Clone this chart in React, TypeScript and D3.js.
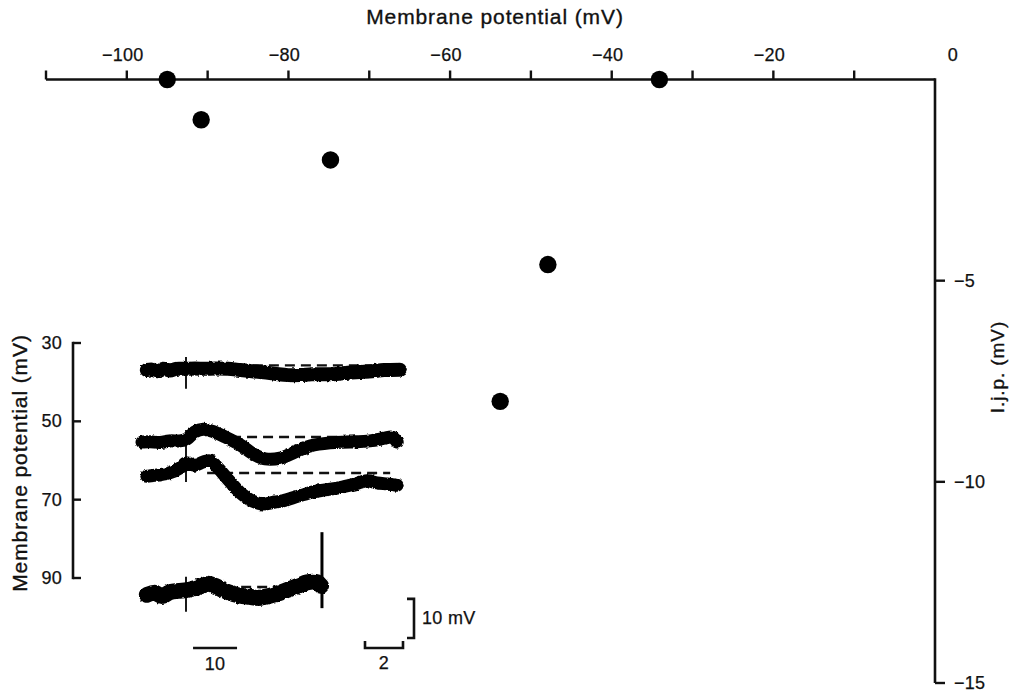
import React from "react";
import * as d3 from "d3";

// Main plot: i.j.p. amplitude against membrane potential
const membranePotential = [-95, -90.8, -74.8, -47.9, -53.8, -34.1];
const ijpAmplitude = [0, -1.0, -2.0, -4.6, -8.0, 0];

const topTickValues = [-110, -100, -90, -80, -70, -60, -50, -40, -30, -20, -10];
const topTickLabels = [-100, -80, -60, -40, -20, 0];
const rightTickValues = [-5, -10, -15];

// Inset: intracellular records (time units, membrane potential in -mV)
const insetTickValues = [30, 50, 70, 90];

const trace1: [number, number][] = [
  [1.1, 36.9], [2.3, 36.8], [3.6, 37.2], [5.0, 36.6], [6.4, 37.0], [7.7, 36.6],
  [10.0, 36.6], [12.0, 36.5], [14.3, 36.6], [16.6, 36.5], [19.5, 36.6], [22.3, 36.9],
  [25.0, 37.2], [27.7, 37.5], [30.5, 37.9], [33.2, 38.2], [35.9, 38.2], [38.6, 38.0],
  [41.4, 38.0], [44.1, 37.9], [46.8, 37.6], [49.5, 37.4], [52.3, 37.2], [55.0, 36.9],
  [58.6, 36.8],
];
const trace2: [number, number][] = [
  [0, 55.3], [1.8, 55.2], [4.1, 55.4], [6.4, 55.0], [8.6, 55.0], [10.2, 54.5],
  [12.0, 52.7], [13.9, 52.0], [15.9, 52.5], [18.9, 54.0], [22.3, 56.0], [25.7, 58.6],
  [28.0, 59.6], [31.4, 59.4], [34.8, 57.8], [38.2, 56.3], [42.7, 55.5], [47.3, 55.3],
  [51.8, 55.0], [55.2, 54.3], [56.8, 54.0], [58.0, 55.3],
];
const trace3: [number, number][] = [
  [1.1, 64.0], [3.6, 63.7], [6.4, 63.1], [8.6, 61.9], [10.0, 60.6], [12.0, 61.2],
  [13.9, 60.4], [15.5, 60.1], [17.3, 61.9], [19.3, 64.5], [22.3, 68.2], [25.0, 70.3],
  [27.5, 71.1], [30.2, 70.6], [32.0, 70.3], [35.5, 69.1], [38.9, 68.0], [41.6, 67.5],
  [45.0, 66.9], [48.4, 66.0], [51.1, 65.2], [53.4, 65.7], [55.7, 66.0], [58.0, 66.3],
];
const trace4: [number, number][] = [
  [1.1, 94.3], [3.0, 93.8], [4.5, 94.6], [6.4, 93.6], [8.2, 93.3], [10.2, 93.1],
  [12.0, 92.6], [13.6, 92.0], [15.0, 91.5], [16.6, 92.0], [19.3, 93.5], [22.3, 94.5],
  [24.5, 94.8], [26.4, 95.1], [28.0, 94.8], [29.8, 94.3], [31.8, 93.6], [33.6, 92.8],
  [35.9, 91.8], [37.5, 91.1], [39.8, 91.1], [40.7, 92.0],
];
const traceWidths = [14, 13, 13, 16];

// Pre-stimulus resting levels (dashed) with the time span they cover
const baselines = [
  { v: 35.7, t0: 25.2, t1: 58.0 },
  { v: 54.0, t0: 16.6, t1: 57.0 },
  { v: 63.2, t0: 14.8, t1: 56.4 },
  { v: 92.3, t0: 18.9, t1: 39.3 },
];

// Stimulus artefacts at t = 10
const stimulusTime = 10;
const stimulusSpans: [number, number][] = [[33.6, 41.7], [52.2, 65.5], [89.7, 98.6]];
// Spike at the end of the last record
const spike = { t: 40.9, v0: 78.3, v1: 97.7 };

// Calibration bars
const timeBar = { start: 11.6, length: 10, label: "10" };
const slowBar = { start: 0, length: 2, label: "2" };
const voltBar = { length: 10, label: "10 mV" };

const FONT = "'Liberation Sans', Arial, Helvetica, sans-serif";
const INK = "#111";

export default function App() {
  const W = 1020;
  const H = 693;

  const x = d3.scaleLinear().domain([-110, 0]).range([46, 935]);
  const y = d3.scaleLinear().domain([0, -15]).range([79.5, 683]);

  const yIn = d3.scaleLinear().domain([30, 90]).range([343, 578]);
  const tIn = d3.scaleLinear().domain([0, 60]).range([142, 406]);
  const tSlow = d3.scaleLinear().domain([0, 2]).range([365, 403]);

  const line = d3
    .line<[number, number]>()
    .x((d) => tIn(d[0]))
    .y((d) => yIn(d[1]))
    .curve(d3.curveCatmullRom.alpha(0.5));

  const traces = [trace1, trace2, trace3, trace4];
  const axisY = y(0);
  const axisX = x(0);
  const insetX = 73;

  const voltLen = yIn(30 + voltBar.length) - yIn(30);
  const voltX = 414;
  const voltBottom = 638;
  const barY = 648;

  const labelStyle = { fontSize: 18, fill: INK, stroke: INK, strokeWidth: 0.25, letterSpacing: 0.3 };
  const titleStyle = { fontSize: 21, fill: INK, stroke: INK, strokeWidth: 0.35, letterSpacing: 0.9 };

  return (
    <svg
      width={W}
      height={H}
      viewBox={`0 0 ${W} ${H}`}
      style={{ position: "absolute", left: 0, top: 0, background: "#fff" }}
      fontFamily={FONT}
    >
      <defs>
        <filter id="ragged" x="-5%" y="-30%" width="110%" height="160%">
          <feTurbulence type="fractalNoise" baseFrequency="0.3" numOctaves="2" seed="4" />
          <feDisplacementMap in="SourceGraphic" scale="3" xChannelSelector="R" yChannelSelector="G" />
        </filter>
      </defs>
      <rect width={W} height={H} fill="#fff" />

      {/* Top axis: membrane potential */}
      <text x={495} y={24} textAnchor="middle" {...titleStyle}>
        Membrane potential (mV)
      </text>
      <line x1={x(-110)} x2={axisX} y1={axisY} y2={axisY} stroke={INK} strokeWidth={2.6} />
      {topTickValues.map((v) => (
        <line key={v} x1={x(v)} x2={x(v)} y1={axisY} y2={axisY - 9} stroke={INK} strokeWidth={2.4} />
      ))}
      {topTickLabels.map((v) => (
        <text key={v} x={v === 0 ? x(v) + 18 : x(v) - 4} y={61} textAnchor="middle" {...labelStyle}>
          {v === 0 ? "0" : `\u2212${Math.abs(v)}`}
        </text>
      ))}

      {/* Right axis: i.j.p. amplitude */}
      <line x1={axisX} x2={axisX} y1={axisY - 1.3} y2={y(-15)} stroke={INK} strokeWidth={2.6} />
      {rightTickValues.map((v) => (
        <line key={v} x1={axisX} x2={axisX + 10} y1={y(v)} y2={y(v)} stroke={INK} strokeWidth={2.4} />
      ))}
      {rightTickValues.map((v) => (
        <text key={v} x={axisX + 19} y={y(v) + 6} {...labelStyle}>
          {`\u2212${Math.abs(v)}`}
        </text>
      ))}
      <text transform={`translate(1004, 367) rotate(-90)`} textAnchor="middle" {...titleStyle} fontSize={19}>
        I.j.p. (mV)
      </text>

      {/* Data points */}
      {membranePotential.map((v, i) => (
        <circle key={i} cx={x(v)} cy={y(ijpAmplitude[i])} r={8.7} fill="#000" />
      ))}

      {/* Inset axis */}
      <text transform={`translate(27, 463) rotate(-90)`} textAnchor="middle" {...titleStyle}>
        Membrane potential (mV)
      </text>
      <line x1={insetX} x2={insetX} y1={yIn(30) - 1.2} y2={yIn(90) + 1.2} stroke={INK} strokeWidth={2.6} />
      {insetTickValues.map((v) => (
        <g key={v}>
          <line x1={insetX} x2={insetX + 8} y1={yIn(v)} y2={yIn(v)} stroke={INK} strokeWidth={2.4} />
          <text x={62} y={yIn(v) + 6} textAnchor="end" {...labelStyle}>
            {v}
          </text>
        </g>
      ))}

      {/* Resting levels */}
      {baselines.map((b, i) => (
        <line
          key={i}
          x1={tIn(b.t0)}
          x2={tIn(b.t1)}
          y1={yIn(b.v)}
          y2={yIn(b.v)}
          stroke={INK}
          strokeWidth={2.4}
          strokeDasharray="10 6"
        />
      ))}

      {/* Records */}
      <g filter="url(#ragged)">
        {traces.map((tr, i) => (
          <path
            key={i}
            d={line(tr) ?? ""}
            fill="none"
            stroke="#000"
            strokeWidth={traceWidths[i]}
            strokeLinecap="round"
            strokeLinejoin="round"
          />
        ))}
      </g>
      {stimulusSpans.map((s, i) => (
        <line
          key={i}
          x1={tIn(stimulusTime)}
          x2={tIn(stimulusTime)}
          y1={yIn(s[0])}
          y2={yIn(s[1])}
          stroke="#000"
          strokeWidth={1.8}
        />
      ))}
      <line x1={tIn(spike.t)} x2={tIn(spike.t)} y1={yIn(spike.v0)} y2={yIn(spike.v1)} stroke="#000" strokeWidth={3} />

      {/* Calibration: voltage */}
      <path
        d={`M${voltX - 7},${voltBottom - voltLen} H${voltX} V${voltBottom} H${voltX - 7}`}
        fill="none"
        stroke={INK}
        strokeWidth={2.6}
      />
      <text x={voltX + 8} y={voltBottom - voltLen / 2 + 6} {...labelStyle}>
        {voltBar.label}
      </text>

      {/* Calibration: time */}
      <line
        x1={tIn(timeBar.start)}
        x2={tIn(timeBar.start + timeBar.length)}
        y1={barY}
        y2={barY}
        stroke={INK}
        strokeWidth={2.6}
      />
      <text
        x={(tIn(timeBar.start) + tIn(timeBar.start + timeBar.length)) / 2}
        y={670}
        textAnchor="middle"
        {...labelStyle}
      >
        {timeBar.label}
      </text>
      <path
        d={`M${tSlow(slowBar.start)},${barY - 7} V${barY} H${tSlow(slowBar.start + slowBar.length)} V${barY - 7}`}
        fill="none"
        stroke={INK}
        strokeWidth={2.6}
      />
      <text
        x={(tSlow(slowBar.start) + tSlow(slowBar.start + slowBar.length)) / 2}
        y={669}
        textAnchor="middle"
        {...labelStyle}
      >
        {slowBar.label}
      </text>
    </svg>
  );
}
